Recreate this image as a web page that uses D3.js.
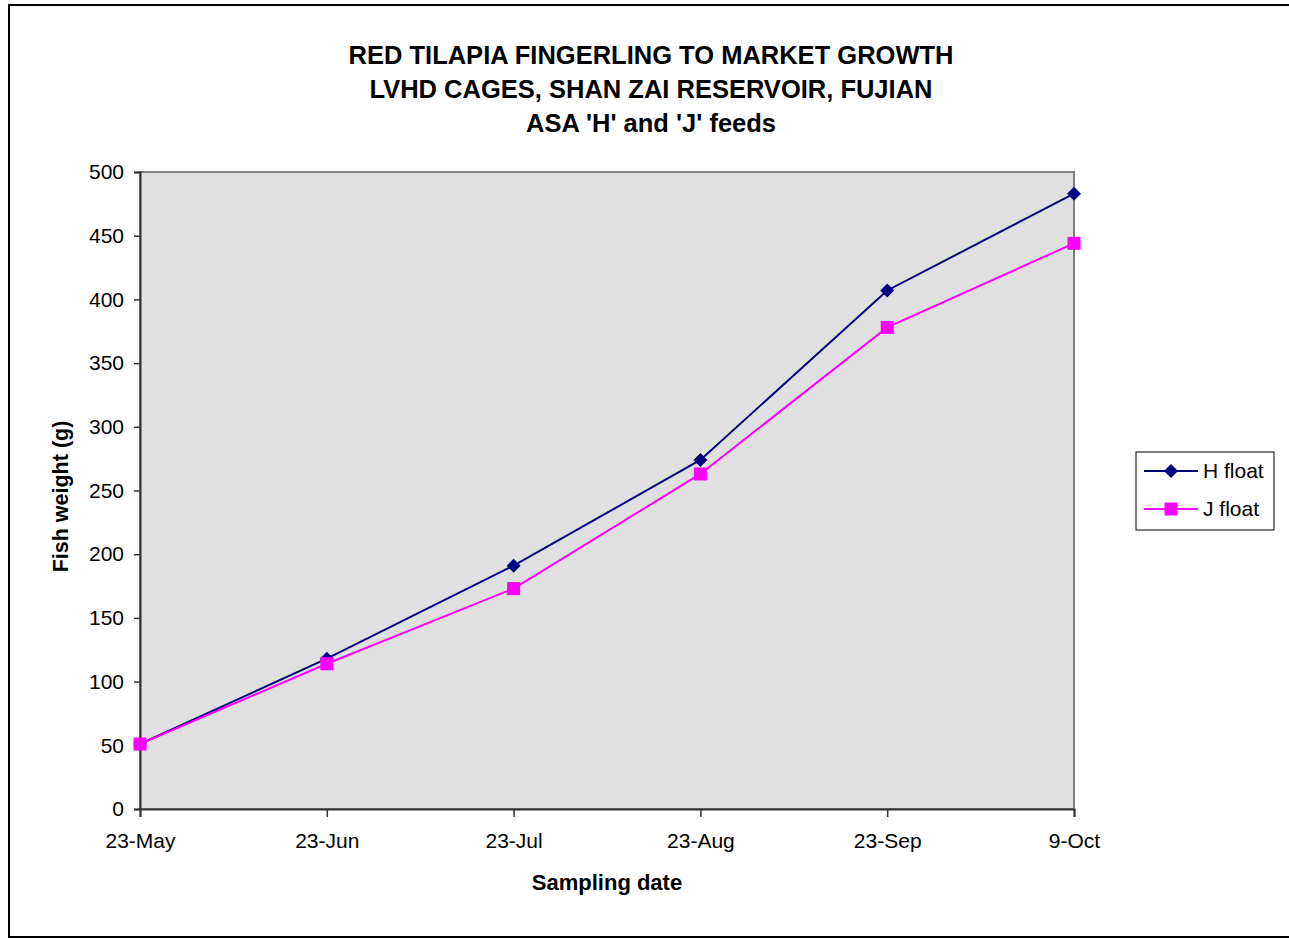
<!DOCTYPE html>
<html>
<head>
<meta charset="utf-8">
<script src="https://cdn.jsdelivr.net/npm/d3@7"></script>
<style>
	body { margin: 0; background: #fff; font-family: "Liberation Sans", Arial, sans-serif; }
	svg text { font-family: "Liberation Sans", Arial, sans-serif; fill: #000; }
</style>
</head>
<body>
<div id="chart"></div>
<script>
// sampling dates (category axis) and fish weights in grams
let categories	= ['23-May', '23-Jun', '23-Jul', '23-Aug', '23-Sep', '9-Oct'];
let hFloat		= [51, 118, 191, 274, 407, 483];
let jFloat		= [51, 114, 173, 263, 378, 444];
let yTicks		= [0, 50, 100, 150, 200, 250, 300, 350, 400, 450, 500];
let titleLines	= ['RED TILAPIA FINGERLING TO MARKET GROWTH', 'LVHD CAGES, SHAN ZAI RESERVOIR, FUJIAN', "ASA 'H' and 'J' feeds"];

let canvasWidth		= 1289;
let canvasHeight	= 939;
let margin			= { top: 172, right: 215, bottom: 130, left: 140 };
let width			= canvasWidth - margin.left - margin.right;
let height			= canvasHeight - margin.top - margin.bottom;

let series = [
	{ name: 'H float', values: hFloat, color: '#000080', shape: d3.symbolDiamond2, size: 125 },
	{ name: 'J float', values: jFloat, color: '#ff00ff', shape: d3.symbolSquare, size: 169 }
];

let x = d3.scalePoint().domain(categories).range([0, width]);
let y = d3.scaleLinear().domain([0, 500]).range([height, 0]);

let root = d3.select('#chart').append('svg')
	.attr('width', canvasWidth)
	.attr('height', canvasHeight);

// outer chart border
root.append('rect')
	.attr('x', 9).attr('y', 5)
	.attr('width', 1300).attr('height', 932)
	.attr('fill', '#fff')
	.attr('stroke', '#000')
	.attr('stroke-width', 2);

root.selectAll('.title')
	.data(titleLines).enter().append('text')
		.attr('class', 'title')
		.attr('x', 651)
		.attr('y', (d, i) => 64 + i * 34)
		.attr('text-anchor', 'middle')
		.style('font-size', '25.5px')
		.style('font-weight', 'bold')
		.text((d) => d);

let svg = root.append('g')
	.attr('transform', 'translate(' + margin.left + ',' + margin.top + ')');

svg.append('rect')
	.attr('width', width)
	.attr('height', height)
	.attr('fill', '#e0e0e0')
	.attr('stroke', '#808080')
	.attr('stroke-width', 2);

let yAxis = svg.append('g')
	.attr('class', 'axis')
	.call(d3.axisLeft(y).tickValues(yTicks).tickSize(6).tickPadding(10));

let xAxis = svg.append('g')
	.attr('class', 'axis')
	.attr('transform', 'translate(0,' + height + ')')
	.call(d3.axisBottom(x).tickSize(8).tickPadding(16));

svg.selectAll('.axis path').attr('stroke', '#333').attr('stroke-width', 2);
svg.selectAll('.axis line').attr('stroke', '#333').attr('stroke-width', 1.5);
svg.selectAll('.axis text').style('font-size', '21px').attr('fill', '#000');

svg.append('text')
	.attr('x', width / 2)
	.attr('y', height + 81)
	.attr('text-anchor', 'middle')
	.style('font-size', '22px')
	.style('font-weight', 'bold')
	.text('Sampling date');

svg.append('text')
	.attr('transform', 'translate(' + (-72) + ',' + (height / 2 + 6) + ') rotate(-90)')
	.attr('text-anchor', 'middle')
	.style('font-size', '21.5px')
	.style('font-weight', 'bold')
	.text('Fish weight (g)');

let line = d3.line()
	.x((d, i) => x(categories[i]))
	.y((d) => y(d));

let groupSeries = svg.selectAll('.series')
	.data(series).enter().append('g')
		.attr('class', 'series');

groupSeries.append('path')
	.attr('d', (s) => line(s.values))
	.attr('fill', 'none')
	.attr('stroke', (s) => s.color)
	.attr('stroke-width', 2);

groupSeries.each(function(s) {
	d3.select(this).selectAll('.marker')
		.data(s.values).enter().append('path')
			.attr('class', 'marker')
			.attr('transform', (d, i) => 'translate(' + x(categories[i]) + ',' + y(d) + ')')
			.attr('d', d3.symbol().type(s.shape).size(s.size))
			.attr('fill', s.color);
});

// legend
let legend = root.append('g')
	.attr('transform', 'translate(1136,452)');

legend.append('rect')
	.attr('width', 138)
	.attr('height', 78)
	.attr('fill', '#fff')
	.attr('stroke', '#000')
	.attr('stroke-width', 1);

let legendItem = legend.selectAll('.legend-item')
	.data(series).enter().append('g')
		.attr('class', 'legend-item')
		.attr('transform', (s, i) => 'translate(0,' + (19 + i * 38) + ')');

legendItem.append('line')
	.attr('x1', 8).attr('x2', 62)
	.attr('stroke', (s) => s.color)
	.attr('stroke-width', 2);

legendItem.append('path')
	.attr('transform', 'translate(35,0)')
	.attr('d', (s) => d3.symbol().type(s.shape).size(s.size)())
	.attr('fill', (s) => s.color);

legendItem.append('text')
	.attr('x', 67)
	.attr('dy', '0.35em')
	.style('font-size', '21px')
	.text((s) => s.name);
</script>
</body>
</html>
